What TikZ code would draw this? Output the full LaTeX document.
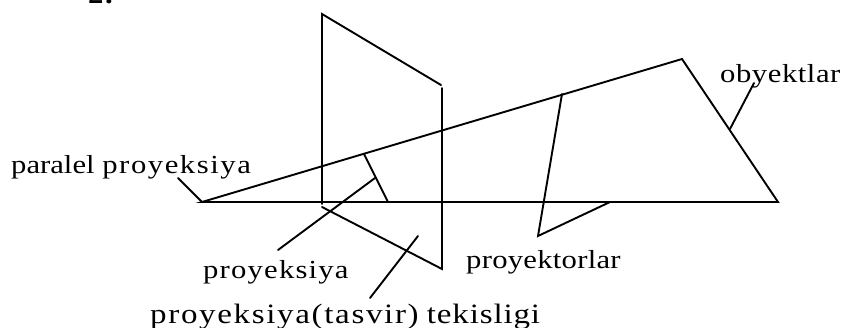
\documentclass[tikz,border=0pt]{standalone}
\usepackage{fontspec}
\setmainfont{Liberation Serif}[FakeStretch=1.18]
\newfontfamily\boldf{Liberation Serif Bold}[FakeStretch=1.18]
\newcommand{\lsp}[1]{\addfontfeature{LetterSpace=#1}}
\begin{document}
\begin{tikzpicture}[x=1pt,y=-1pt,
  ln/.style={line width=1.9pt,black,line cap=round,line join=miter},
  lbl/.style={inner sep=0pt,anchor=base west,font=\fontsize{26}{30}\selectfont}]
\useasboundingbox[fill=white] (0,0) rectangle (846,327);
\coordinate (Pa) at (322,14);
\coordinate (Pb) at (441,85);
\coordinate (Pc) at (442,88);
\coordinate (Pd) at (442,269);
\coordinate (Pe) at (322,207);
\coordinate (Pf) at (322,204);
\coordinate (A) at (202,202);
\coordinate (B) at (682,59);
\coordinate (C) at (778,202);
\coordinate (Q1) at (364,154);
\coordinate (Q2) at (388,202);
\coordinate (R1) at (562,94);
\coordinate (R2) at (538,236);
\coordinate (R3) at (610,202);
\coordinate (L1a) at (178,178);
\coordinate (L2a) at (278,250);
\coordinate (L2b) at (375,178);
\coordinate (L3a) at (370,298);
\coordinate (L3b) at (418,236);
\coordinate (L4a) at (730,129);
\coordinate (L4b) at (754,83);
\draw[ln] (Pf) -- (Pa) -- (Pb);
\draw[ln] (Pc) -- (Pd) -- (Pe);
\draw[ln] (A) -- (B) -- (C) -- cycle;
\draw[ln] (Q1) -- (Q2);
\draw[ln] (R1) -- (R2) -- (R3);
\draw[ln] (L1a) -- (A);
\draw[ln] (L2a) -- (L2b);
\draw[ln] (L3a) -- (L3b);
\draw[ln] (L4a) -- (L4b);
\node[lbl] (t0) at (88,3) {\boldf\lsp{6}2.};
\node[lbl] (t1) at (11,173) {{\lsp{0}paralel} {\lsp{6}proyeksiya}};
\node[lbl] (t2) at (203,278) {\lsp{4.6}proyeksiya};
\node[lbl,font=\fontsize{28}{30}\selectfont] (t3) at (150,323) {{\lsp{5.9}proyeksiya(tasvir)} {\lsp{3}tekisligi}};
\node[lbl] (t4) at (466,268) {\lsp{1}proyektorlar};
\node[lbl] (t5) at (720,82) {\lsp{2.1}obyektlar};
\end{tikzpicture}
\end{document}
